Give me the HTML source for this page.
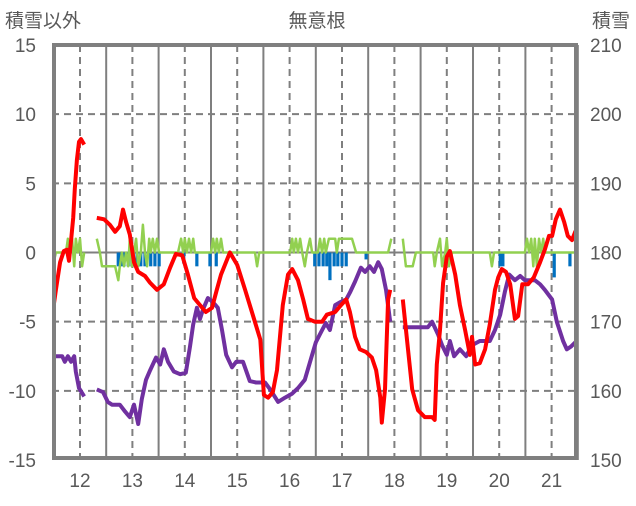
<!DOCTYPE html>
<html><head><meta charset="utf-8"><style>
body{margin:0;background:#fff}
svg text{font-family:"Liberation Sans","Noto Sans CJK JP",sans-serif;fill:#595959}
</style></head><body>
<svg id="chart" width="636" height="501" xmlns="http://www.w3.org/2000/svg">
<defs><clipPath id="plotclip"><rect x="56" y="47" width="518" height="409"/></clipPath></defs>
<text x="5" y="27" font-size="19">積雪以外</text>
<text x="317" y="27" font-size="19" text-anchor="middle">無意根</text>
<text x="630" y="27" font-size="19" text-anchor="end">積雪</text>
<g id="grid"></g><g id="bars" clip-path="url(#plotclip)"></g><g id="lines" clip-path="url(#plotclip)"></g><g id="axes"></g>
</svg>
<script>
const leftTicks=[15,10,5,0,-5,-10,-15];
const rightTicks=[210,200,190,180,170,160,150];
const dayLabels=[12,13,14,15,16,17,18,19,20,21];
const redT=[11.48,11.54,11.62,11.69,11.75,11.79,11.83,11.87,11.90,11.94,11.98,12.02,12.08,null,12.32,12.46,12.57,12.67,12.76,12.82,12.88,12.95,13.03,13.11,13.24,13.34,13.47,13.60,13.72,13.83,13.95,14.06,14.18,14.29,14.40,14.52,14.61,14.69,14.86,15.00,15.15,15.28,15.44,15.51,15.59,15.68,15.76,15.87,15.97,16.05,16.16,16.26,16.35,16.48,16.62,16.71,16.87,16.98,17.08,17.15,17.25,17.34,17.46,17.57,17.65,17.73,17.76,17.82,17.88,17.92,null,18.16,18.26,18.34,18.45,18.58,18.72,18.77,18.81,18.87,18.93,19.00,19.06,19.16,19.25,19.35,19.44,19.48,19.54,19.63,19.73,19.82,19.92,19.98,20.05,20.13,20.21,20.30,20.36,20.44,20.55,20.66,20.78,20.87,20.95,21.01,21.08,21.16,21.24,21.31,21.39,21.45,21.50];
const redV=[-4.3,-2.7,-0.7,0.1,0.2,-0.6,0.9,2.5,4.6,6.7,8.0,8.2,7.8,null,2.5,2.4,2.0,1.5,1.9,3.1,2.2,1.3,-0.7,-1.4,-1.7,-2.2,-2.7,-2.3,-1.1,-0.1,-0.2,-1.6,-3.3,-3.8,-4.3,-4.0,-2.7,-1.6,0.0,-0.9,-2.7,-4.3,-6.3,-10.3,-10.5,-10.1,-8.5,-3.8,-1.6,-1.2,-2.0,-3.4,-4.8,-5.0,-5.0,-4.5,-4.3,-3.8,-3.4,-4.3,-6.1,-7.0,-7.2,-7.6,-8.5,-10.5,-12.3,-9.9,-3.4,-2.7,null,-3.4,-7.0,-9.9,-11.4,-11.9,-11.9,-12.1,-8.1,-5.6,-2.2,-0.3,0.1,-1.6,-3.8,-5.6,-7.4,-6.1,-8.1,-8.0,-7.0,-5.2,-2.7,-1.8,-1.2,-1.4,-2.3,-4.8,-4.6,-2.3,-2.3,-1.8,-0.7,0.2,1.2,1.2,2.4,3.1,2.2,1.2,0.9,1.5,1.8];
const purpleT=[11.48,11.66,11.71,11.77,11.83,11.89,11.92,11.98,12.08,null,12.32,12.44,12.53,12.61,12.76,12.86,12.95,13.03,13.11,13.18,13.26,13.34,13.45,13.53,13.60,13.68,13.79,13.91,14.02,14.10,14.16,14.23,14.29,14.35,14.44,14.54,14.63,14.71,14.79,14.90,14.98,15.11,15.24,15.36,15.53,15.63,15.78,15.91,16.05,16.16,16.29,16.43,16.50,16.58,16.69,16.77,16.87,16.96,17.08,17.15,17.25,17.36,17.44,17.53,17.61,17.69,17.76,17.84,17.92,null,18.16,18.64,18.72,18.83,18.91,19.00,19.06,19.14,19.25,19.37,19.48,19.63,19.82,19.92,20.02,20.11,20.19,20.30,20.40,20.49,20.68,20.78,20.87,21.01,21.10,21.22,21.29,21.37,21.45,21.50];
const purpleV=[-7.5,-7.5,-7.9,-7.5,-7.9,-7.5,-8.6,-9.8,-10.4,null,-9.9,-10.1,-10.8,-11.0,-11.0,-11.5,-11.9,-11.0,-12.4,-10.6,-9.2,-8.5,-7.6,-8.1,-7.0,-7.9,-8.6,-8.8,-8.7,-6.8,-5.2,-4.0,-4.8,-4.1,-3.3,-3.6,-4.0,-5.6,-7.4,-8.3,-7.9,-7.9,-9.3,-9.4,-9.4,-9.9,-10.8,-10.5,-10.2,-9.8,-9.2,-7.4,-6.5,-5.9,-5.1,-5.6,-3.8,-3.6,-3.4,-2.9,-2.1,-1.1,-1.4,-1.0,-1.4,-0.7,-1.2,-2.7,-5.0,null,-5.4,-5.4,-5.0,-5.9,-6.7,-7.4,-6.4,-7.5,-7.0,-7.5,-6.7,-6.4,-6.4,-5.6,-4.5,-2.8,-1.6,-2.0,-1.7,-2.0,-2.0,-2.3,-2.7,-3.4,-5.0,-6.4,-7.0,-6.8,-6.5,-6.5];
const greenT=[11.48,11.54,11.73,11.77,11.81,11.85,11.89,11.92,11.96,12.00,12.04,12.08,null,12.32,12.38,12.42,12.67,12.73,12.76,12.80,12.84,12.88,12.92,12.95,12.99,13.03,13.07,13.11,13.16,13.20,13.24,13.28,13.32,13.35,13.39,13.43,13.47,13.51,13.87,13.93,13.97,14.00,14.04,14.08,14.12,14.16,14.19,14.50,14.54,14.58,14.61,14.65,14.69,14.73,15.34,15.38,15.42,16.01,16.05,16.08,16.12,16.16,16.20,16.24,16.29,16.33,16.39,16.43,16.54,16.58,16.62,16.66,16.69,16.75,16.87,16.90,16.94,17.19,17.27,17.88,17.94,null,18.16,18.22,18.35,18.41,18.74,18.77,18.81,18.87,18.91,18.97,19.00,19.04,19.10,19.82,19.86,19.90,20.49,20.53,20.57,20.61,20.65,20.68,20.72,20.76,20.80,20.84,20.87,21.50];
const greenV=[-1,0,0,1,0,1,-1,1,0,1,-1,0,null,1,0,-1,-1,-2,-1,0,-1,0,-1,1,-1,0,1,-1,0,2,0,-1,1,0,1,0,1,0,0,1,0,1,0,1,0,1,0,0,1,0,1,0,1,0,0,-1,0,0,1,0,1,0,1,0,-1,0,1,0,0,1,0,1,0,1,1,0,1,1,0,0,1,null,1,-1,-1,0,0,-1,0,1,-1,0,1,-1,0,0,-1,0,0,1,0,1,-1,1,-1,1,0,1,0,0];
const barT=[12.73,12.78,12.84,12.92,12.99,13.09,13.16,13.24,13.35,13.43,13.51,13.98,14.23,14.48,14.60,16.48,16.56,16.64,16.71,16.77,16.85,16.92,17.00,17.08,17.46,20.02,20.07,21.05,21.35];
const barV=[-1,-1,-1,-1,-1,-1,-1,-1,-1,-1,-1,-0.8,-1,-1,-1,-1,-1,-1,-1,-2,-1,-1,-1,-1,-0.5,-1,-1,-1.8,-1];

const NS="http://www.w3.org/2000/svg";
const X0=52,X1=578,Y0=45,Y1=460;
const xs=t=>80+(t-12)*52.4;
const ys=v=>252.5-v*13.833;
function mk(tag,attrs,parent){const e=document.createElementNS(NS,tag);for(const k in attrs)e.setAttribute(k,attrs[k]);parent.appendChild(e);return e;}
const grid=document.getElementById('grid'),bars=document.getElementById('bars'),lines=document.getElementById('lines'),axes=document.getElementById('axes');
for(const d of dayLabels){
  const l=mk('line',{x1:xs(d),x2:xs(d),y1:Y0,y2:Y1,stroke:'#7f7f7f','stroke-width':2,'stroke-dasharray':'7,5'},grid);
  
  
  const s=mk('line',{x1:xs(d+0.5),x2:xs(d+0.5),y1:Y0,y2:Y1,stroke:'#7f7f7f','stroke-width':2},grid);
  
  
  const tx=mk('text',{x:xs(d),y:487,'font-size':19,'text-anchor':'middle'},axes);tx.textContent=d;
  
  
}
leftTicks.forEach((v,i)=>{
  if(v!==15&&v!==-15){const g=mk('line',{x1:X0,x2:X1,y1:ys(v),y2:ys(v),stroke:'#7f7f7f','stroke-width':2,'stroke-dasharray':v===0?'':'7,5'},grid);
  
  }
  const t=mk('text',{x:36,y:ys(v)+7,'font-size':19,'text-anchor':'end'},axes);t.textContent=v;
  
  
  const r=mk('text',{x:590,y:ys(v)+7,'font-size':19},axes);r.textContent=rightTicks[i];
  
  
});
const fr=mk('rect',{x:X0+2,y:Y0,width:X1-X0-4,height:Y1-Y0-2,fill:'none',stroke:'#7f7f7f','stroke-width':4},axes);


barT.forEach((t,i)=>{const b=mk('rect',{x:xs(t)-1.6,y:ys(0),width:3.2,height:ys(barV[i])-ys(0),fill:'#0070c0'},bars);
  
  });
function path(T,V){let d='',pen=false;for(let i=0;i<T.length;i++){if(T[i]===null||V[i]===null){pen=false;continue;}d+=(pen?'L':'M')+xs(T[i]).toFixed(1)+','+ys(V[i]).toFixed(1);pen=true;}return d;}
const g=mk('path',{d:path(greenT,greenV),fill:'none',stroke:'#92d050','stroke-width':2.5,'stroke-linejoin':'round'},lines);


const p=mk('path',{d:path(purpleT,purpleV),fill:'none',stroke:'#7030a0','stroke-width':4,'stroke-linejoin':'round'},lines);


const r=mk('path',{d:path(redT,redV),fill:'none',stroke:'#ff0000','stroke-width':4,'stroke-linejoin':'round'},lines);


</script>
</body></html>
